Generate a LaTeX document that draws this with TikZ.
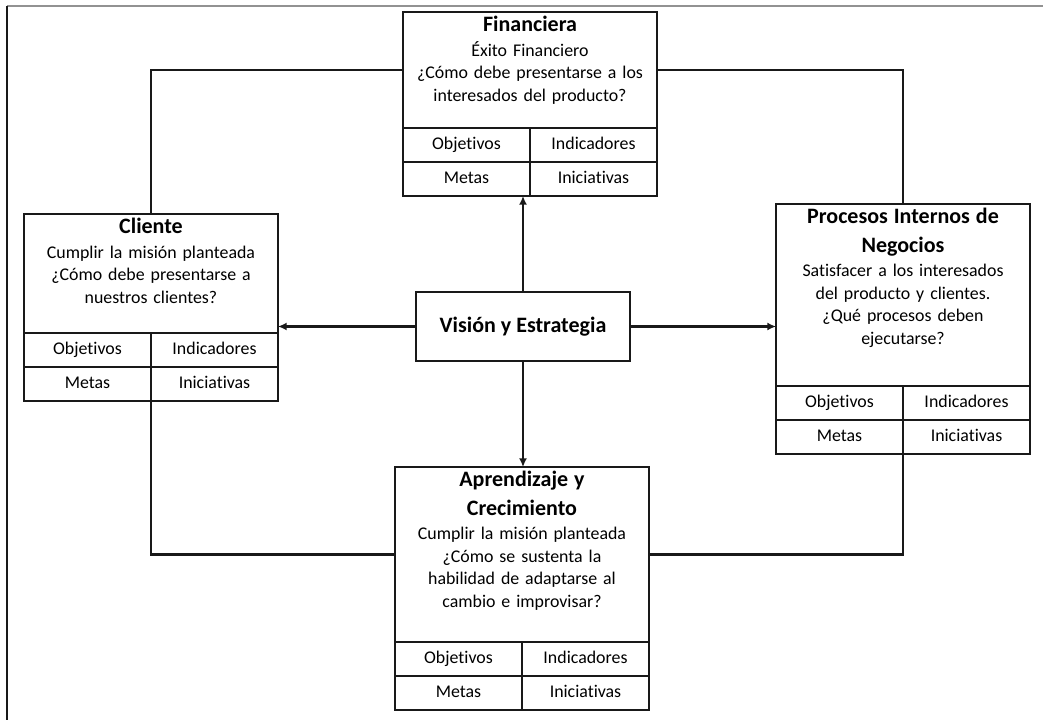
\documentclass[tikz,border=0pt]{standalone}
\usepackage{fontspec}
\setmainfont[Ligatures=NoCommon]{Carlito}
\usepackage{tikz}
\usetikzlibrary{arrows.meta,positioning}
\definecolor{framegray}{RGB}{146,146,146}
\definecolor{ink}{RGB}{25,25,25}
\newcommand{\titlefont}{\fontsize{16.5}{21.5}\selectfont\bfseries}
\newcommand{\bodyfont}{\fontsize{13.4}{16.9}\selectfont}
\newcommand{\cardtitle}[1]{{\titlefont #1\par}\vspace{1.5pt}}
\tikzstyle{card}=[rectangle, draw=ink, line width=1pt, minimum width=190.5pt, inner sep=0pt, outer sep=0pt]
\tikzstyle{cardtext}=[text width=186pt, align=center, anchor=north, inner sep=3pt, font=\bodyfont]
\tikzstyle{cell}=[rectangle, draw=ink, line width=1pt, minimum width=95.25pt, minimum height=25.5pt, text height=9.5pt, text depth=3pt, inner sep=0pt, outer sep=0pt, font=\bodyfont]
\tikzstyle{vision}=[rectangle, draw=ink, line width=1pt, minimum width=160.5pt, minimum height=51.75pt, font=\titlefont]
\tikzstyle{link}=[draw=ink, line width=1.8pt]
\tikzstyle{flow}=[draw=ink, line width=1.6pt, -{Latex[length=6.5pt,width=6pt]}]

\begin{document}
\begin{tikzpicture}[x=0.75pt, y=-0.75pt]
      %
      \path[use as bounding box] (0,0) rectangle (1043,720);
      \draw[framegray, line width=1.6pt] (7,6) -- (1043,6);
      \draw[ink, line width=1.4pt] (7,6) -- (7,720);
      %
      % Vision y Estrategia (centre)
      %
      \node[vision] (vis) at (523,326.5) {Visión y Estrategia};
      %
      % Financiera*
      %
      \node[card, minimum height=87pt] (fin) at (530,70) {};
      \node[cardtext] (fin-text) at (fin.north) {\cardtitle{Financiera}Éxito Financiero\\ ¿Cómo debe presentarse a los\\ interesados del producto?};
      \node[cell, anchor=north west] (fin-obj) at (fin.south west) {Objetivos};
      \node[cell, right=0pt of fin-obj] (fin-ind) {Indicadores};
      \node[cell, below=0pt of fin-obj] (fin-met) {Metas};
      \node[cell, below=0pt of fin-ind] (fin-ini) {Iniciativas};
      %
      % Cliente*
      %
      \node[card, minimum height=89.25pt] (cli) at (151,273.5) {};
      \node[cardtext] (cli-text) at (cli.north) {\cardtitle{Cliente}Cumplir la misión planteada\\ ¿Cómo debe presentarse a\\ nuestros clientes?};
      \node[cell, anchor=north west] (cli-obj) at (cli.south west) {Objetivos};
      \node[cell, right=0pt of cli-obj] (cli-ind) {Indicadores};
      \node[cell, below=0pt of cli-obj] (cli-met) {Metas};
      \node[cell, below=0pt of cli-ind] (cli-ini) {Iniciativas};
      %
      % Procesos Internos de Negocios*
      %
      \node[card, minimum height=136.5pt] (pro) at (903,295) {};
      \node[cardtext] (pro-text) at (pro.north) {\cardtitle{Procesos Internos de\\ Negocios}Satisfacer a los interesados\\ del producto y clientes.\\ ¿Qué procesos deben\\ ejecutarse?};
      \node[cell, anchor=north west] (pro-obj) at (pro.south west) {Objetivos};
      \node[cell, right=0pt of pro-obj] (pro-ind) {Indicadores};
      \node[cell, below=0pt of pro-obj] (pro-met) {Metas};
      \node[cell, below=0pt of pro-ind] (pro-ini) {Iniciativas};
      %
      % Aprendizaje y Crecimiento*
      %
      \node[card, minimum height=131.25pt] (apr) at (522,554.5) {};
      \node[cardtext] (apr-text) at (apr.north) {\cardtitle{Aprendizaje y\\ Crecimiento}Cumplir la misión planteada\\ ¿Cómo se sustenta la\\ habilidad de adaptarse al\\ cambio e improvisar?};
      \node[cell, anchor=north west] (apr-obj) at (apr.south west) {Objetivos};
      \node[cell, right=0pt of apr-obj] (apr-ind) {Indicadores};
      \node[cell, below=0pt of apr-obj] (apr-met) {Metas};
      \node[cell, below=0pt of apr-ind] (apr-ini) {Iniciativas};
      %
      % Vision --> the four perspectives
      %
      \path[flow] (vis.north) -- (vis.north |- fin-met.south);
      \path[flow] (vis.south) -- (vis.south |- apr.north);
      \path[flow] (vis.west) -- (vis.west -| cli.east);
      \path[flow] (vis.east) -- (vis.east -| pro.west);
      %
      % links round the perspectives
      %
      \path[link] (fin.west) -| (cli.north);
      \path[link] (fin.east) -| (pro.north);
      \path[link] (cli-met.south east) |- (apr.west);
      \path[link] (pro-met.south east) |- (apr.east);
      %
\end{tikzpicture}
\end{document}
